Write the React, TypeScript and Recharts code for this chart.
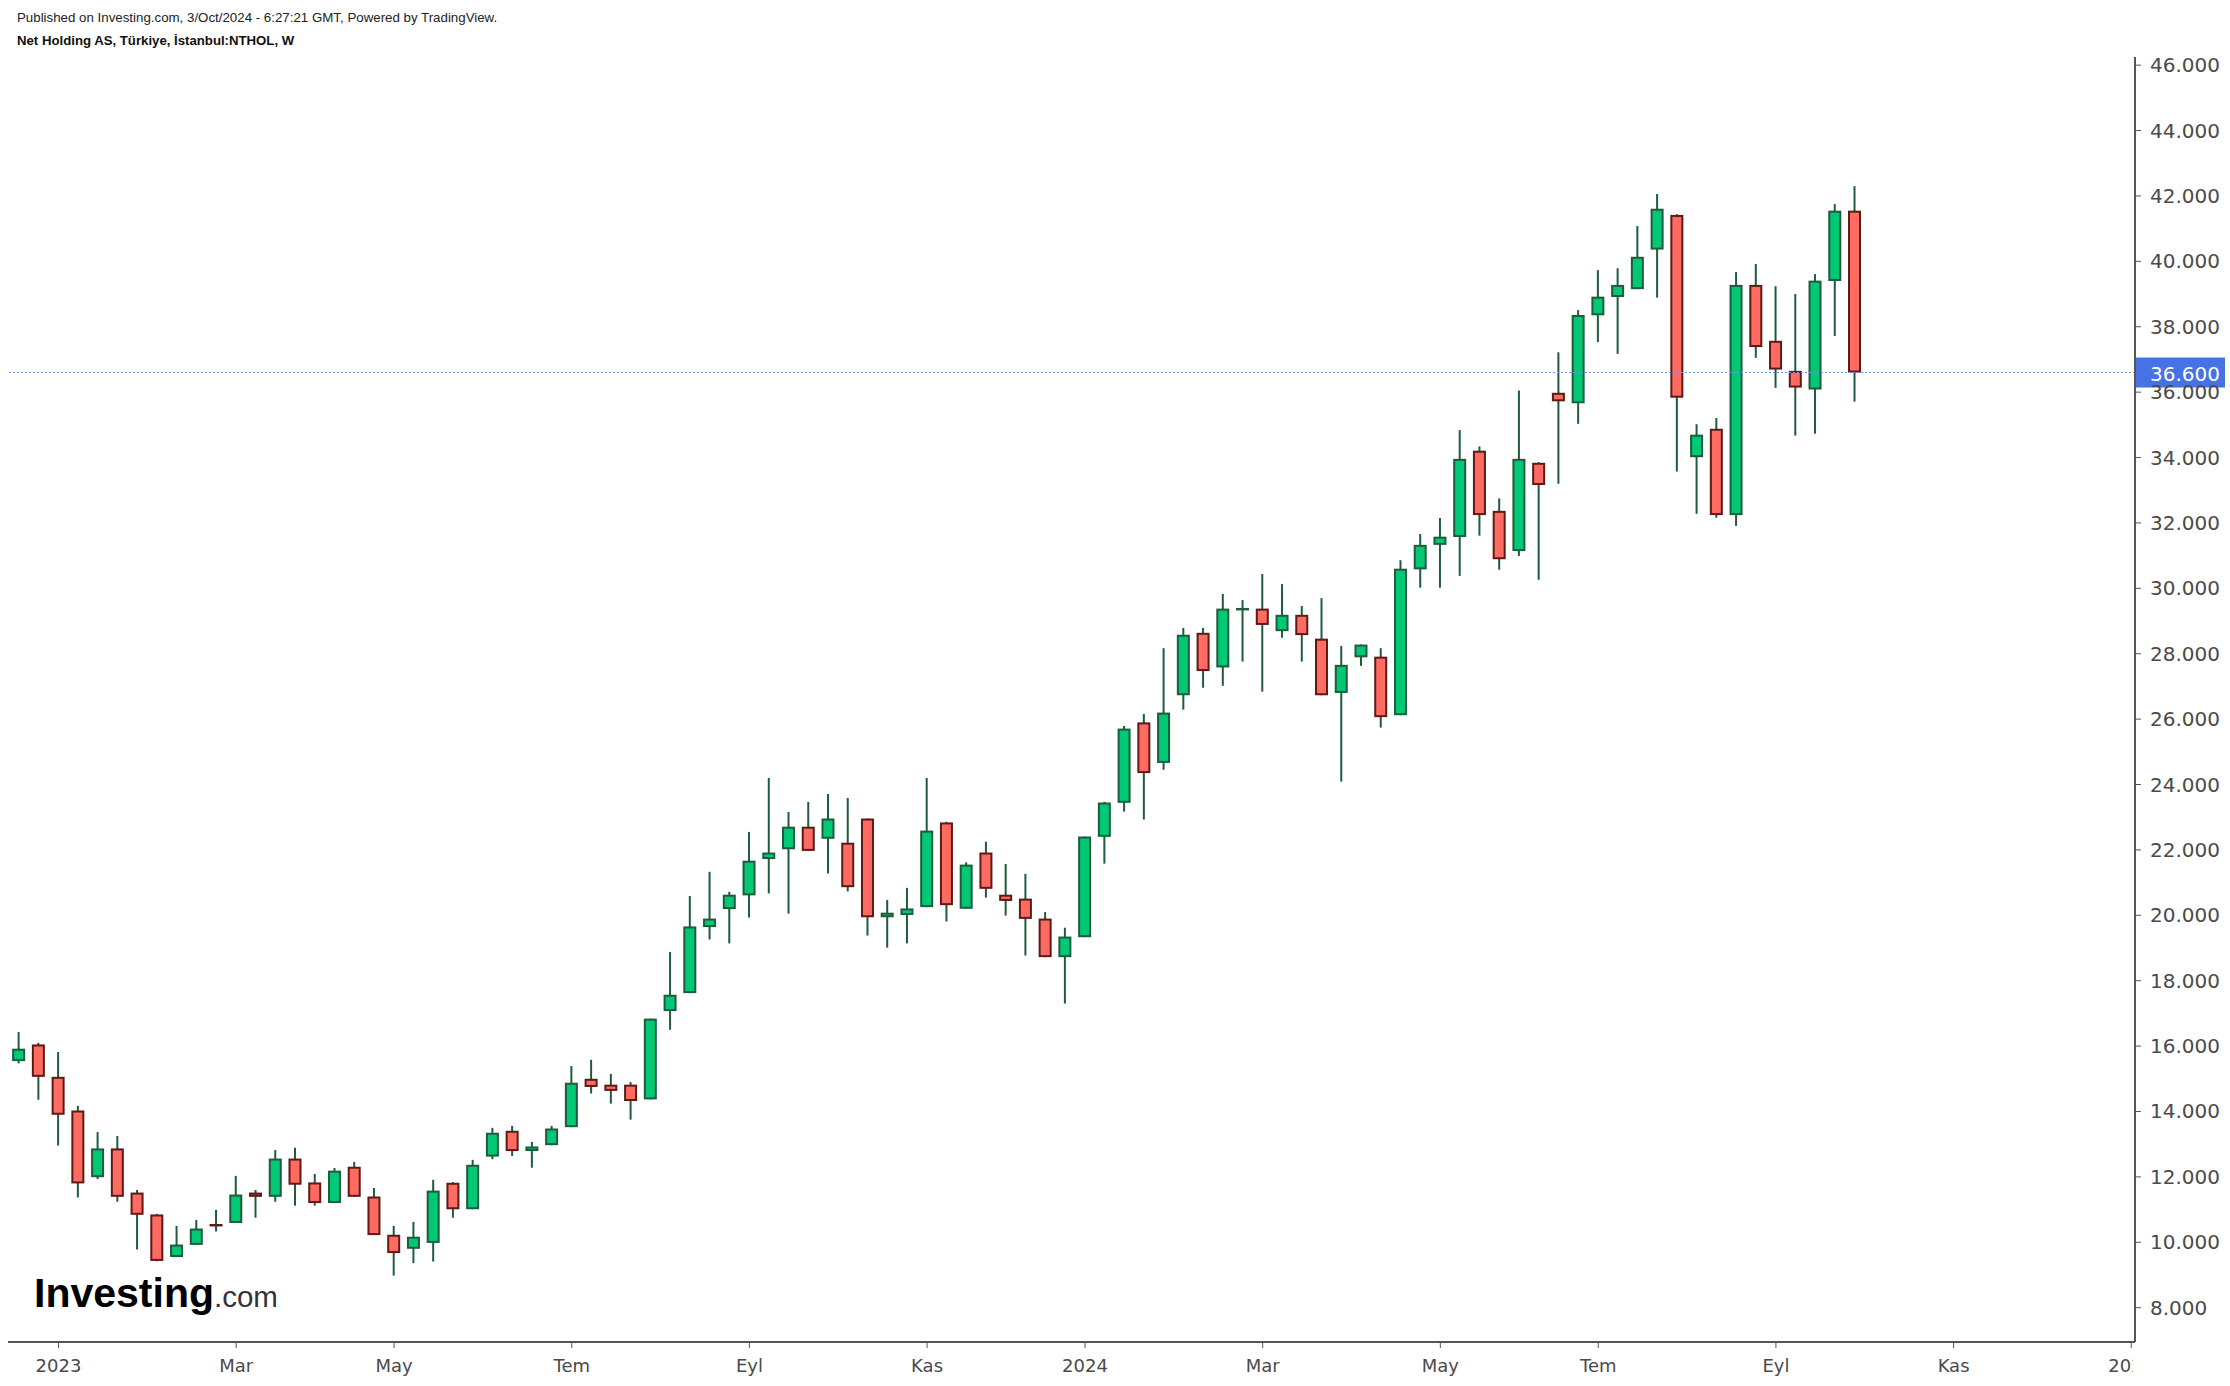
import React from 'react'
import { ComposedChart, Bar, XAxis, YAxis, ReferenceLine } from 'recharts'

// weekly NTHOL candles, first bar = week of 19 Dec 2022
const FIRST_WEEK = '2022-12-19'

const opens = [
  15.54, 16.05, 15.06, 14.03, 11.99, 12.87, 11.52, 10.85, 9.55, 9.92,
  10.56, 10.59, 11.52, 11.39, 12.56, 11.83, 11.2, 12.31, 11.4, 10.23,
  9.8, 9.98, 11.82, 11.01, 12.62, 13.41, 12.79, 12.97, 13.52, 15.0,
  14.82, 14.82, 14.37, 17.07, 17.62, 19.64, 20.19, 20.61, 21.72, 22.02,
  22.71, 22.34, 22.22, 22.96, 19.94, 20.01, 20.25, 22.84, 20.2, 21.92,
  20.63, 20.51, 19.9, 18.72, 19.33, 22.4, 23.44, 25.9, 24.66, 26.73,
  28.64, 27.58, 29.36, 29.38, 28.69, 29.19, 28.46, 26.8, 27.89, 27.91,
  26.12, 30.58, 31.33, 31.57, 34.21, 32.37, 31.14, 33.84, 35.98, 35.66,
  38.35, 38.91, 39.15, 40.36, 41.42, 34.01, 34.88, 32.24, 39.28, 37.57,
  36.65, 36.08, 39.4, 41.55,
]
const highs = [
  16.43, 16.1, 15.82, 14.17, 13.37, 13.25, 11.6, 10.87, 10.5, 10.68,
  10.99, 12.03, 11.6, 12.82, 12.89, 12.09, 12.27, 12.46, 11.66, 10.5,
  10.62, 11.91, 11.84, 12.52, 13.5, 13.56, 13.07, 13.56, 15.39, 15.58,
  15.15, 14.9, 16.84, 18.88, 20.59, 21.33, 20.72, 22.55, 24.2, 23.16,
  23.47, 23.71, 23.59, 22.96, 20.47, 20.84, 24.2, 22.86, 21.62, 22.25,
  21.57, 21.27, 20.1, 19.62, 22.41, 23.47, 25.79, 26.16, 28.17, 28.79,
  28.79, 29.83, 29.64, 30.44, 30.13, 29.46, 29.7, 28.24, 28.28, 28.17,
  30.86, 31.66, 32.15, 34.84, 34.34, 32.75, 36.05, 33.86, 37.22, 38.51,
  39.73, 39.79, 41.08, 42.06, 41.44, 35.02, 35.21, 39.67, 39.92, 39.24,
  39.0, 39.61, 41.75, 42.3,
]
const lows = [
  15.47, 14.36, 12.96, 11.37, 11.93, 11.24, 9.78, 9.42, 9.55, 9.92,
  10.33, 10.59, 10.75, 11.24, 11.12, 11.12, 11.2, 11.39, 10.22, 8.98,
  9.36, 9.41, 10.75, 11.01, 12.54, 12.64, 12.28, 12.97, 13.52, 14.55,
  14.24, 13.75, 14.37, 16.5, 17.62, 19.26, 19.14, 19.93, 20.67, 20.05,
  21.97, 21.28, 20.73, 19.38, 19.01, 19.14, 20.25, 19.81, 20.2, 20.54,
  19.99, 18.77, 18.72, 17.3, 19.33, 21.58, 23.17, 22.93, 24.45, 26.29,
  26.96, 27.02, 27.76, 26.84, 28.49, 27.76, 26.73, 24.09, 27.63, 25.74,
  26.12, 30.02, 30.02, 30.38, 31.61, 30.57, 30.99, 30.26, 33.2, 35.03,
  37.53, 37.17, 39.15, 38.89, 33.57, 32.28, 32.16, 31.91, 37.05, 36.13,
  34.67, 34.73, 37.72, 35.71,
]
const closes = [
  15.92, 15.06, 13.9, 11.8, 12.87, 11.39, 10.84, 9.43, 9.93, 10.42,
  10.53, 11.46, 11.39, 12.56, 11.76, 11.2, 12.19, 11.39, 10.22, 9.67,
  10.17, 11.58, 11.01, 12.37, 13.35, 12.79, 12.93, 13.48, 14.88, 14.75,
  14.63, 14.32, 16.84, 17.57, 19.66, 19.9, 20.63, 21.67, 21.92, 22.71,
  21.97, 22.96, 20.86, 19.94, 20.08, 20.21, 22.59, 20.31, 21.55, 20.81,
  20.44, 19.89, 18.72, 19.35, 22.41, 23.45, 25.71, 24.35, 26.2, 28.58,
  27.47, 29.38, 29.4, 28.88, 29.19, 28.57, 26.73, 27.66, 28.28, 26.06,
  30.6, 31.33, 31.58, 33.96, 32.24, 30.89, 33.96, 33.16, 35.72, 38.36,
  38.92, 39.28, 40.14, 41.61, 35.83, 34.7, 32.24, 39.28, 37.38, 36.69,
  36.14, 39.41, 41.55, 36.6,
]

const lastPrice = 36.6
const priceTicks = [8, 10, 12, 14, 16, 18, 20, 22, 24, 26, 28, 30, 32, 34, 36, 38, 40, 42, 44, 46]
// week index of the first bar of each labelled month
const timeTickWeeks = [2, 11, 19, 28, 37, 46, 54, 63, 72, 80, 89, 98, 107]
const timeTickLabels = ['2023', 'Mar', 'May', 'Tem', 'Eyl', 'Kas', '2024', 'Mar', 'May', 'Tem', 'Eyl', 'Kas', '2025']

const GREEN = '#00c875'
const GREEN_EDGE = '#1e5c3d'
const RED = '#ff6a61'
const RED_EDGE = '#5d1a17'
const WICK = '#1e5c3d'
const AXIS = '#555555'

const CHART_W = 2230
const CHART_H = 1386
const Y_AXIS_W = 95
const X_AXIS_H = 44
const PLOT_LEFT = 8
const PLOT_TOP = 57
const PLOT_RIGHT = CHART_W - Y_AXIS_W
const PLOT_BOTTOM = CHART_H - X_AXIS_H

const weekLabel = (i: number) => {
  const d = new Date(FIRST_WEEK + 'T00:00:00Z')
  d.setUTCDate(d.getUTCDate() + i * 7)
  return d.toISOString().slice(0, 10)
}

const data = opens.map((open, i) => ({
  week: i,
  date: weekLabel(i),
  open,
  high: highs[i],
  low: lows[i],
  close: closes[i],
  range: [lows[i], highs[i]],
}))

function Candle(props: any) {
  const { x, y, width, height, payload } = props
  if (!payload) return null
  const { open, close, high, low } = payload
  const up = close >= open
  const top = Math.min(y, y + height)
  const span = Math.abs(height)
  const ppu = span / (high - low || 1)
  const bodyTop = top + (high - Math.max(open, close)) * ppu
  const bodyH = Math.abs(open - close) * ppu
  const cx = x + width / 2
  return (
    <g>
      <line x1={cx} x2={cx} y1={top} y2={top + span} stroke={WICK} strokeWidth={2} />
      <rect
        x={x + 1}
        y={bodyTop + 1}
        width={width - 2}
        height={Math.max(bodyH - 2, 0.5)}
        fill={up ? GREEN : RED}
        stroke={up ? GREEN_EDGE : RED_EDGE}
        strokeWidth={2}
      />
    </g>
  )
}

function TimeTick({ x, payload, index }: any) {
  const label = timeTickLabels[timeTickWeeks.indexOf(payload.value)]
  const id = `time-clip-${index}`
  return (
    <g>
      <defs>
        <clipPath id={id}>
          <rect x={PLOT_LEFT} y={PLOT_BOTTOM} width={PLOT_RIGHT - PLOT_LEFT - 2} height={X_AXIS_H} />
        </clipPath>
      </defs>
      <text
        x={x}
        y={PLOT_BOTTOM + 30}
        textAnchor="middle"
        fontFamily="DejaVu Sans"
        fontSize={18}
        fill="#4a4a4a"
        clipPath={`url(#${id})`}
      >
        {label}
      </text>
    </g>
  )
}

function PriceTick({ y, payload }: any) {
  return (
    <text x={PLOT_RIGHT + 15} y={y + 7} fontFamily="DejaVu Sans" fontSize={20} fill="#4a4a4a">
      {payload.value.toFixed(3)}
    </text>
  )
}

function LastPriceLabel({ viewBox }: any) {
  const x = viewBox.x + viewBox.width
  const y = viewBox.y
  return (
    <g>
      <rect x={x} y={y - 15} width={90} height={30} fill="#4672e6" />
      <text x={x + 15} y={y + 8} fontFamily="DejaVu Sans" fontSize={20} fill="#ffffff">
        {lastPrice.toFixed(3)}
      </text>
    </g>
  )
}

export default function App() {
  return (
    <div
      style={{
        position: 'absolute',
        left: 0,
        top: 0,
        width: CHART_W,
        height: CHART_H,
        background: '#ffffff',
        fontFamily: '"Liberation Sans", Arial, sans-serif',
      }}
    >
      <div style={{ position: 'absolute', left: 17, top: 11, fontSize: 13.3, lineHeight: 1, color: '#222' }}>
        Published on Investing.com, 3/Oct/2024 - 6:27:21 GMT, Powered by TradingView.
      </div>
      <div
        style={{ position: 'absolute', left: 17, top: 34, fontSize: 13.2, lineHeight: 1, fontWeight: 700, color: '#111' }}
      >
        Net Holding AS, Türkiye, İstanbul:NTHOL, W
      </div>

      <ComposedChart
        width={CHART_W}
        height={CHART_H}
        data={data}
        margin={{ top: PLOT_TOP, right: 0, bottom: 0, left: PLOT_LEFT }}
      >
        <XAxis
          dataKey="week"
          type="number"
          domain={[-0.557, 107.19]}
          allowDataOverflow
          ticks={timeTickWeeks}
          interval={0}
          height={X_AXIS_H}
          axisLine={{ stroke: AXIS, strokeWidth: 2 }}
          tickLine={{ stroke: AXIS, strokeWidth: 1 }}
          tickSize={6}
          tick={<TimeTick />}
        />
        <YAxis
          orientation="right"
          type="number"
          domain={[6.95, 46.25]}
          allowDataOverflow
          ticks={priceTicks}
          interval={0}
          width={Y_AXIS_W}
          axisLine={{ stroke: AXIS, strokeWidth: 2 }}
          tickLine={{ stroke: AXIS, strokeWidth: 1 }}
          tickSize={6}
          tick={<PriceTick />}
        />
        <ReferenceLine
          y={lastPrice}
          stroke="#6f8ff0"
          strokeWidth={1}
          strokeDasharray="2 2"
          label={<LastPriceLabel />}
        />
        <Bar dataKey="range" barSize={13} shape={<Candle />} isAnimationActive={false} />
      </ComposedChart>

      <div
        style={{
          position: 'absolute',
          left: 34,
          top: 1273,
          display: 'flex',
          alignItems: 'baseline',
          lineHeight: 1,
        }}
      >
        <span style={{ fontSize: 41, fontWeight: 700, color: '#000' }}>Investing</span>
        <span style={{ fontSize: 29.5, color: '#333' }}>.com</span>
      </div>
    </div>
  )
}
